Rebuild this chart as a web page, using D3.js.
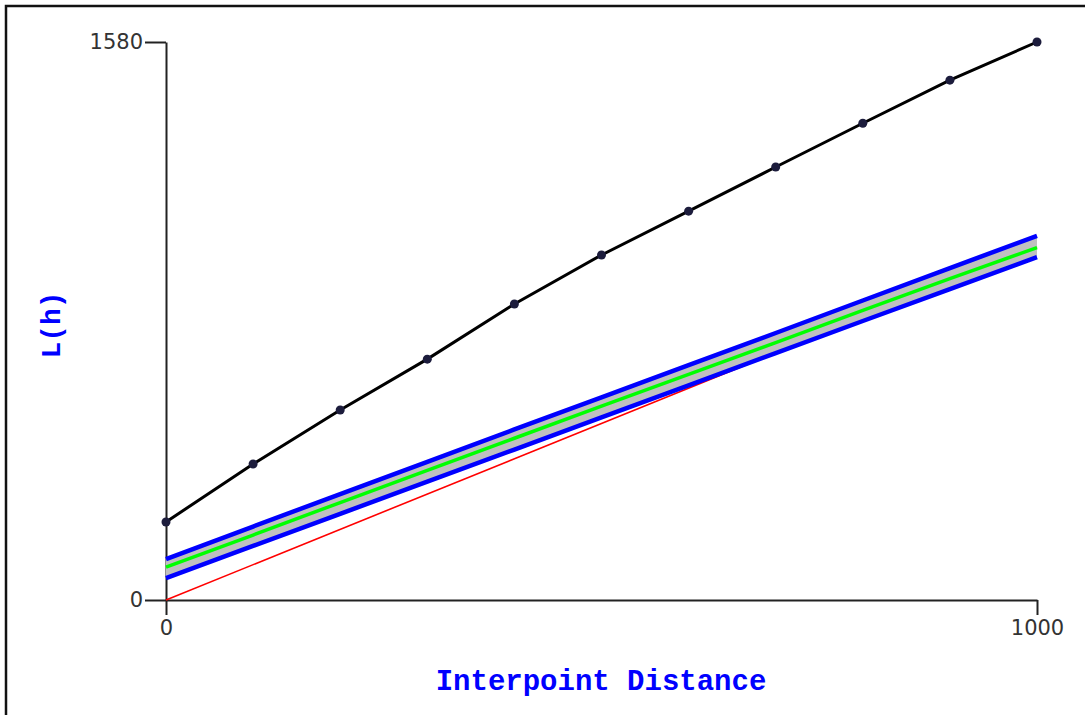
<!DOCTYPE html>
<html>
<head>
<meta charset="utf-8">
<script src="https://cdn.jsdelivr.net/npm/d3@7"></script>
<style>
  body { margin: 0; background: #fff; }
  svg { display: block; }
  .tick text { font-family: "DejaVu Sans", sans-serif; font-size: 21px; fill: #333; }
  .axis-title { font-family: "Liberation Mono", "Courier New", monospace; font-weight: bold; fill: #0000ff; }
</style>
</head>
<body>
<div id="chart"></div>
<script>
// Data
const distances = [0, 100, 200, 300, 400, 500, 600, 700, 800, 900, 1000];
const observedL = [221, 385, 538, 682, 838, 977, 1101, 1226, 1350, 1472, 1580];
const envelopeMean = [93, 184, 276, 367, 458, 549, 639, 729, 820, 910, 998];
const envelopeUpper = [116, 208, 300, 391, 483, 574, 665, 756, 848, 940, 1031];
const envelopeLower = [62, 153, 244, 335, 426, 517, 608, 699, 790, 880, 971];
const referenceLine = [0, 1000]; // L(h) = h
const xTicks = [0, 1000];
const yTicks = [0, 1580];

const width = 1085;
const height = 715;

const svg = d3
  .select("#chart")
  .append("svg")
  .attr("width", width)
  .attr("height", height);

// Frame around the chart
svg
  .append("rect")
  .attr("x", 6)
  .attr("y", 6)
  .attr("width", width + 10)
  .attr("height", height + 10)
  .attr("fill", "none")
  .attr("stroke", "#111")
  .attr("stroke-width", 2.5);

const x = d3.scaleLinear().domain([0, 1000]).range([166, 1037]);
const y = d3.scaleLinear().domain([0, 1580]).range([600, 42]);

// Axes
const xAxis = svg
  .append("g")
  .attr("transform", `translate(0,${y(0)})`)
  .call(d3.axisBottom(x).tickValues(xTicks).tickSizeInner(15).tickSizeOuter(0).tickPadding(5).tickFormat(d3.format("d")));

const yAxis = svg
  .append("g")
  .attr("transform", `translate(${x(0)},0)`)
  .call(d3.axisLeft(y).tickValues(yTicks).tickSizeInner(21).tickSizeOuter(0).tickPadding(2).tickFormat(d3.format("d")));

[xAxis, yAxis].forEach((g) => {
  g.select(".domain").attr("stroke", "#222").attr("stroke-width", 2);
  g.selectAll(".tick line").attr("stroke", "#222").attr("stroke-width", 2);
});

// Reference line y = h (drawn under the envelope)
svg
  .append("path")
  .datum(referenceLine)
  .attr("d", d3.line().x((d) => x(d)).y((d) => y(d)))
  .attr("fill", "none")
  .attr("stroke", "#ff0000")
  .attr("stroke-width", 1.6);

// Envelope band
const bandData = distances.map((d, i) => ({ d, lo: envelopeLower[i], hi: envelopeUpper[i] }));
svg
  .append("path")
  .datum(bandData)
  .attr("d", d3.area().x((p) => x(p.d)).y0((p) => y(p.lo)).y1((p) => y(p.hi)))
  .attr("fill", "#c0c0c0");

const line = d3.line().x((d, i) => x(distances[i])).y((d) => y(d));

[envelopeUpper, envelopeLower].forEach((series) => {
  svg
    .append("path")
    .datum(series)
    .attr("d", line)
    .attr("fill", "none")
    .attr("stroke", "#0000ff")
    .attr("stroke-width", 4.5);
});

svg
  .append("path")
  .datum(envelopeMean)
  .attr("d", line)
  .attr("fill", "none")
  .attr("stroke", "#00ff00")
  .attr("stroke-width", 3.5);

// Observed L(h)
svg
  .append("path")
  .datum(observedL)
  .attr("d", line)
  .attr("fill", "none")
  .attr("stroke", "#000")
  .attr("stroke-width", 3);

svg
  .append("g")
  .selectAll("circle")
  .data(observedL)
  .enter()
  .append("circle")
  .attr("cx", (d, i) => x(distances[i]))
  .attr("cy", (d) => y(d))
  .attr("r", 4.5)
  .attr("fill", "#1c1c3c");

// Axis titles
svg
  .append("text")
  .attr("class", "axis-title")
  .attr("x", 601)
  .attr("y", 690)
  .attr("text-anchor", "middle")
  .style("font-size", "29px")
  .text("Interpoint Distance");

svg
  .append("text")
  .attr("class", "axis-title")
  .attr("transform", "translate(60,325) rotate(-90)")
  .attr("text-anchor", "middle")
  .style("font-size", "28px")
  .text("L(h)");
</script>
</body>
</html>
